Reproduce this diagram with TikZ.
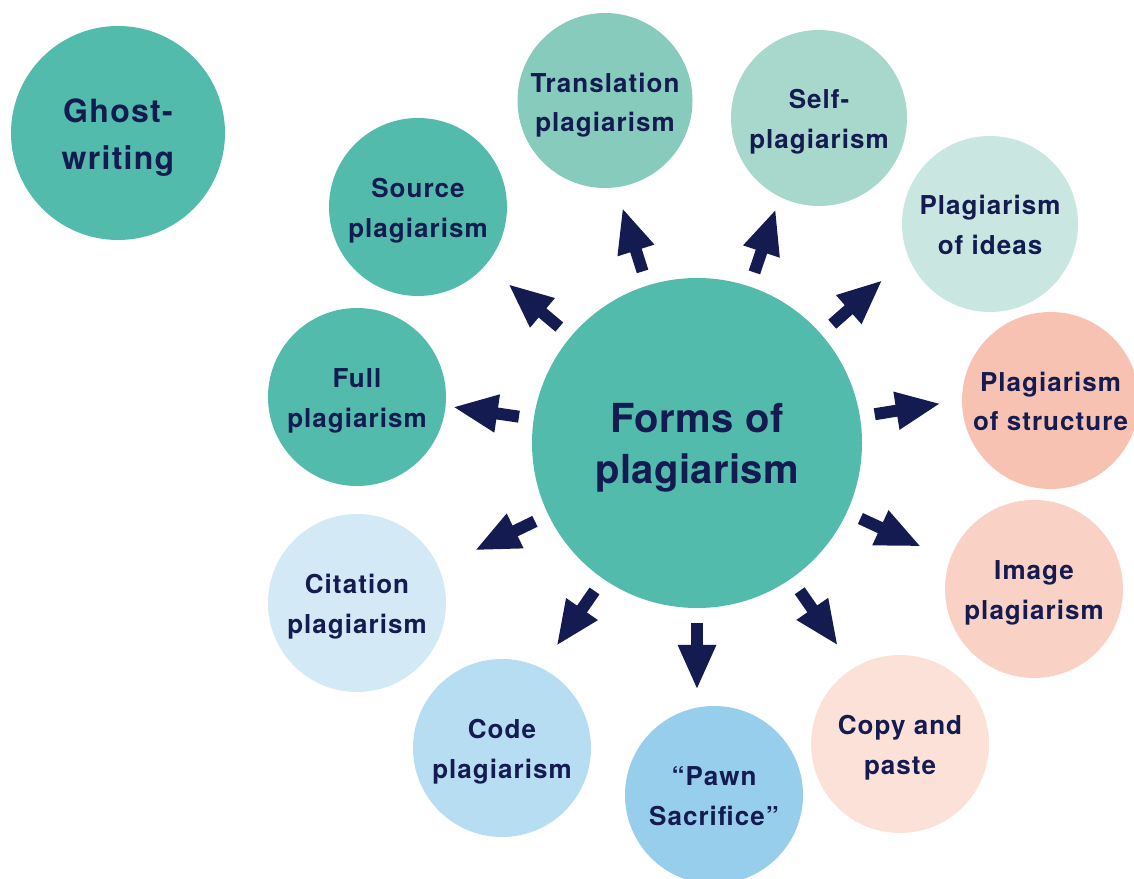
\documentclass[tikz,border=0pt]{standalone}
\usepackage{fontspec}
\setmainfont{TeX Gyre Heros}
\newfontfamily\lblfont{TeX Gyre Heros}[LetterSpace=4]
\newfontfamily\ctrfont{TeX Gyre Heros}[LetterSpace=1]
\usetikzlibrary{arrows.meta,calc}
\definecolor{navy}{HTML}{141B50}
\definecolor{teal1}{HTML}{52BBAB}
\definecolor{teal2}{HTML}{87CBBD}
\definecolor{teal3}{HTML}{A8D8CC}
\definecolor{teal4}{HTML}{C9E6E0}
\definecolor{rose1}{HTML}{F8C2B2}
\definecolor{rose2}{HTML}{FAD1C5}
\definecolor{rose3}{HTML}{FCE1D8}
\definecolor{blue1}{HTML}{97CEEC}
\definecolor{blue2}{HTML}{B7DDF2}
\definecolor{blue3}{HTML}{D3E9F6}
\newcommand\lbl[2][2.4pt]{\raisebox{-#1}[\height][\depth]{\begin{tabular}{@{}c@{}}#2\end{tabular}}}
\tikzset{
  bubble/.style={circle, inner sep=0pt, minimum size=178pt,
    text=navy, font=\lblfont\bfseries\fontsize{26}{39.5}\selectfont},
  flow/.style={navy, line width=12pt, -{Triangle[length=45pt,width=35pt]}},
}
\begin{document}
\begin{tikzpicture}[x=1pt,y=1pt]
\useasboundingbox (0,0) rectangle (1134,878);
\fill[white] (0,0) rectangle (1134,878);
\clip (0,0) rectangle (1134,878);
\node[bubble, fill=teal1, minimum size=330pt, font=\ctrfont\bfseries\fontsize{40}{51}\selectfont] (c) at (697,435) {\lbl[5.3pt]{Forms of\\plagiarism}};
\node[bubble, fill=teal1, minimum size=214pt, font=\lblfont\bfseries\fontsize{32}{47.5}\selectfont] (ghost) at (118,745) {\lbl[3.4pt]{Ghost-\\writing}};
\node[bubble, fill=teal2, minimum size=175pt] (trans) at (605,777.5) {\lbl[3.5pt]{Translation\\plagiarism}};
\node[bubble, fill=teal3, minimum size=176pt] (self) at (819,760) {\lbl{Self-\\plagiarism}};
\node[bubble, fill=teal4, minimum size=176pt] (ideas) at (990,654) {\lbl{Plagiarism\\of ideas}};
\node[bubble, fill=rose1, minimum size=177pt] (struct) at (1050.5,477.5) {\lbl{Plagiarism\\of structure}};
\node[bubble, fill=rose2] (image) at (1034,289) {\lbl{Image\\plagiarism}};
\node[bubble, fill=rose3] (copy) at (900,134) {\lbl{Copy and\\paste}};
\node[bubble, fill=blue1] (pawn) at (714,83) {\lbl{“Pawn\\Sacrifice”}};
\node[bubble, fill=blue2] (code) at (502,130) {\lbl{Code\\plagiarism}};
\node[bubble, fill=blue3] (cit) at (357,275) {\lbl{Citation\\plagiarism}};
\node[bubble, fill=teal1] (full) at (357,481) {\lbl{Full\\plagiarism}};
\node[bubble, fill=teal1] (source) at (418,671) {\lbl{Source\\plagiarism}};
\foreach \a in {171.6,139.9,107.6,71.4,41.3,9.2,-24.8,-55.2,-90,-124.7,-154.2}{
  \draw[flow] ($(c)+(\a:180pt)$) -- ($(c)+(\a:247pt)$);
}
\end{tikzpicture}
\end{document}
